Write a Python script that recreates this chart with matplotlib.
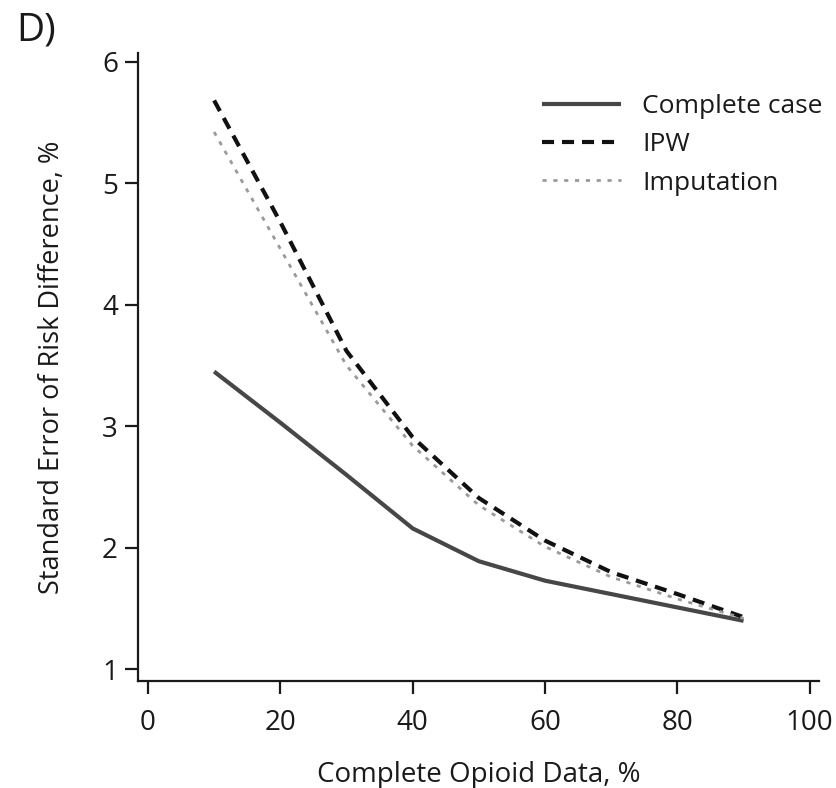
import numpy as np
import matplotlib
matplotlib.use("Agg")
import matplotlib.pyplot as plt

plt.rcParams['font.family'] = ['Open Sans', 'DejaVu Sans']

# percent of subjects with complete opioid data
complete_pct = [10, 20, 30, 40, 50, 60, 70, 80, 90]

# standard error of the risk difference (%) by method
se_complete_case = [3.45, 3.03, 2.60, 2.16, 1.89, 1.73, 1.62, 1.51, 1.40]
se_ipw = [5.68, 4.68, 3.62, 2.91, 2.41, 2.06, 1.80, 1.62, 1.43]
se_imputation = [5.42, 4.46, 3.50, 2.84, 2.35, 2.01, 1.76, 1.58, 1.42]

x_ticks = [0, 20, 40, 60, 80, 100]
y_ticks = [1, 2, 3, 4, 5, 6]

fig = plt.figure(figsize=(8.37, 7.88), dpi=100)
ax = fig.add_axes([0.1649, 0.1358, 0.8136, 0.7969])

ax.plot(complete_pct, se_complete_case, color='#474747', lw=3.0,
        solid_capstyle='butt', label='Complete case')
ax.plot(complete_pct, se_ipw, color='#111111', lw=3.0,
        linestyle=(0, (2.9, 1.9)), label='IPW')
ax.plot(complete_pct, se_imputation, color='#9a9a9a', lw=2.0,
        linestyle=(0, (1.5, 2.4)), label='Imputation')

ax.set_xlim(-1.5, 101.4)
ax.set_ylim(0.905, 6.07)
ax.set_xticks(x_ticks)
ax.set_yticks(y_ticks)

for side in ['top', 'right']:
    ax.spines[side].set_visible(False)
for side in ['left', 'bottom']:
    ax.spines[side].set_linewidth(1.6)
    ax.spines[side].set_color('#1a1a1a')

ax.tick_params(axis='both', direction='out', length=9.5, width=1.6,
               color='#1a1a1a', labelsize=20, labelcolor='#1a1a1a')
ax.tick_params(axis='x', pad=11)
ax.tick_params(axis='y', pad=5)

ax.set_xlabel('Complete Opioid Data, %', fontsize=20, color='#1a1a1a', labelpad=17)
ax.set_ylabel('Standard Error of Risk Difference, %', fontsize=19.5,
              color='#1a1a1a', labelpad=26)

leg = ax.legend(loc='upper left', bbox_to_anchor=(0.6476, 0.881),
                bbox_transform=fig.transFigure, frameon=False,
                fontsize=19, handlelength=3.0, handletextpad=0.8,
                labelspacing=0.51, borderaxespad=0, borderpad=0)
for t in leg.get_texts():
    t.set_color('#1a1a1a')

fig.text(0.02, 0.985, 'D)', fontsize=28, va='top', ha='left', color='#1a1a1a')

fig.savefig('out.png', dpi=100)
